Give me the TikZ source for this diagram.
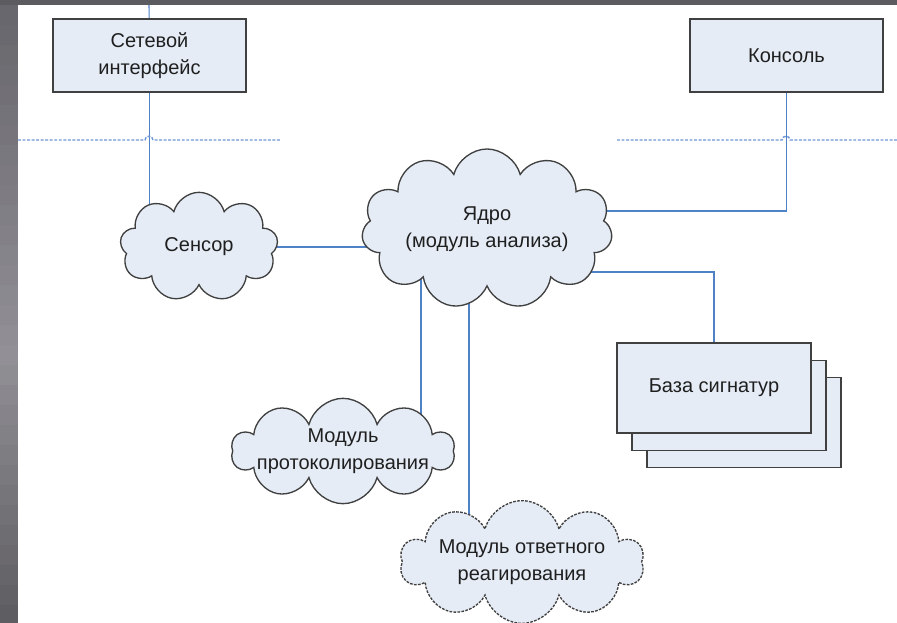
\documentclass[tikz,border=0pt]{standalone}
\usepackage{fontspec}
\setmainfont{Liberation Sans}
\usepackage{tikz}
\usetikzlibrary{shapes.symbols,shadows,calc}

\definecolor{boxfill}{RGB}{229,236,246}
\definecolor{boxline}{RGB}{64,64,64}
\definecolor{linkblue}{RGB}{79,129,199}
\definecolor{zoneblue}{RGB}{112,152,215}
\definecolor{frametop}{RGB}{92,91,96}
\definecolor{stripA}{RGB}{104,103,109}
\definecolor{stripB}{RGB}{146,144,150}
\definecolor{stripC}{RGB}{94,93,98}

\pgfdeclarelayer{bg}
\pgfdeclarelayer{links}
\pgfsetlayers{bg,links,main}

\tikzset{
  block/.style={draw=boxline, line width=1.1pt, fill=boxfill, align=center, inner sep=0pt,
    minimum width=144.75pt, minimum height=54.75pt, text=black!88,
    font=\fontsize{15}{20}\selectfont},
  puff/.style={cloud, cloud puffs=10, cloud ignores aspect, draw=boxline, line width=1pt,
    fill=boxfill, align=center, inner xsep=-25pt, inner ysep=-5pt, text=black!88,
    font=\fontsize{15}{20}\selectfont},
  link/.style={draw=linkblue, line width=0.8pt},
  zone/.style={draw=zoneblue, line width=1.1pt, dash pattern=on 2.2pt off 1.2pt},
}

\begin{document}
\begin{tikzpicture}[x=0.75pt,y=0.75pt,yscale=-1,xscale=1]
\useasboundingbox (0,0) rectangle (897,622);
%Background: frame, left strip and page
\begin{pgfonlayer}{bg}
\fill[frametop] (0,0) rectangle (897,622);
\foreach \i in {0,...,30}{
  \pgfmathtruncatemacro{\up}{min(100,\i*100/17)}
  \pgfmathtruncatemacro{\dn}{max(0,(\i-17)*100/13)}
  \ifnum\i<17
    \fill[stripB!\up!stripA] (0,5+\i*20) rectangle (18,26+\i*20);
  \else
    \fill[stripC!\dn!stripB] (0,5+\i*20) rectangle (18,26+\i*20);
  \fi
}
\fill[white] (18,5) rectangle (897,622);
\end{pgfonlayer}

%Rectangles
\node[block] (net) at (149.5,55.5) {Сетевой\\интерфейс};
\node[block] (con) at (786.5,55.5) {Консоль};
\node[block, minimum width=145.5pt, minimum height=67.5pt,
  double copy shadow={shadow xshift=11.25pt, shadow yshift=-13pt, fill=boxfill, draw=boxline, line width=1.1pt}]
  (db) at (714,388) {База сигнатур};

%Clouds
\node[puff, cloud puffs=9, minimum width=118.5pt, minimum height=82pt] (sensor) at (199,247) {Сенсор};
\node[puff, cloud puffs=11, minimum width=188pt, minimum height=120pt] (core) at (487,229) {Ядро\\(модуль анализа)};
\node[puff, minimum width=167.25pt, minimum height=79pt] (log) at (343,451) {Модуль\\протоколирования};
\node[puff, dash pattern=on 2pt off 1pt, minimum width=183pt, minimum height=92pt] (resp) at (522,562) {Модуль ответного\\реагирования};

%Connectors
\coordinate (netin) at (149,5);
\begin{pgfonlayer}{links}
\draw[link] (netin) -- (net);
\draw[link] (net) -- (net |- sensor.center);
\draw[link] (sensor.center) -- (sensor.center -| core.center);
\draw[link] (con) |- ($(core.center)+(0,-18)$);
\draw[link] ($(core.center)+(0,43)$) -| (db);
\draw[link] ($(core.center)+(-66,0)$) |- (log.center);
\draw[link] ($(core.center)+(-18,0)$) |- (resp.center);
\end{pgfonlayer}

%Dashed zone borders with hops
\draw[zone] (18,140) -- (145,140) .. controls (145,135) and (153,135) .. (153,140) -- (280,140);
\draw[zone] (617,140) -- (782,140) .. controls (782,135) and (790,135) .. (790,140) -- (897,140);

\end{tikzpicture}
\end{document}
